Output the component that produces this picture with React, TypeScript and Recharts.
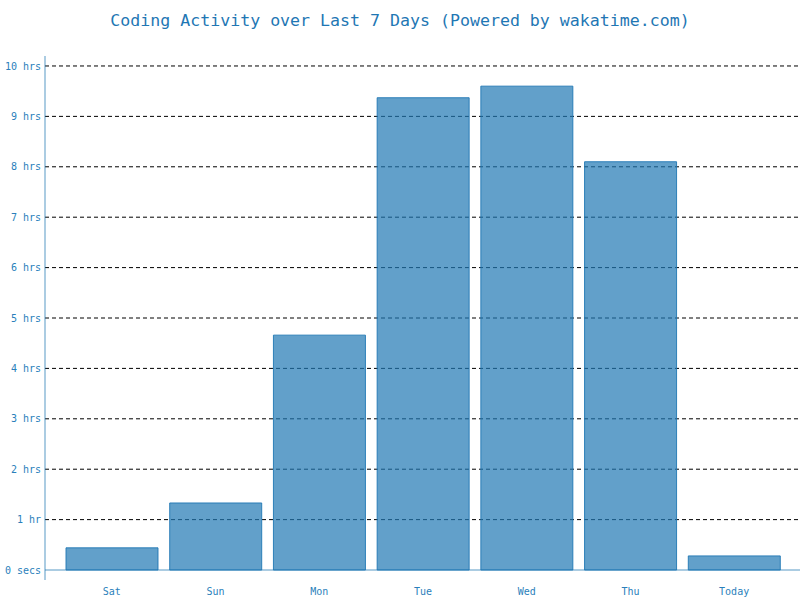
import React from "react";
import { BarChart, Bar, XAxis, YAxis, CartesianGrid, ReferenceLine } from "recharts";

const days = ["Sat", "Sun", "Mon", "Tue", "Wed", "Thu", "Today"];
const hours = [0.44, 1.33, 4.66, 9.37, 9.6, 8.1, 0.28];
const yTicks = [0, 1, 2, 3, 4, 5, 6, 7, 8, 9, 10];
const yTickLabels = ["0 secs", "1 hr", "2 hrs", "3 hrs", "4 hrs", "5 hrs", "6 hrs", "7 hrs", "8 hrs", "9 hrs", "10 hrs"];
const title = "Coding Activity over Last 7 Days (Powered by wakatime.com)";

const data = days.map((d, i) => ({ day: d, hours: hours[i] }));

const FONT = "'DejaVu Sans Mono', monospace";
const BLUE = "#1f77b4";

export default function App() {
  return (
    <div style={{ position: "absolute", left: 0, top: 0, width: 800, height: 600, background: "#fff" }}>
      <div
        style={{
          position: "absolute",
          left: 0,
          top: 11,
          width: 800,
          textAlign: "center",
          fontFamily: FONT,
          fontSize: 16.6,
          color: BLUE,
          lineHeight: "20px",
        }}
      >
        {title}
      </div>
      <BarChart
        width={800}
        height={600}
        data={data}
        margin={{ top: 56, right: 0, bottom: 0, left: 0 }}
        barCategoryGap={6}
      >
        <CartesianGrid
          horizontal={true}
          vertical={false}
          horizontalValues={yTicks.filter((t) => t > 0)}
          stroke="#000"
          strokeDasharray="4 3"
        />
        <XAxis
          dataKey="day"
          height={20}
          axisLine={false}
          tickLine={false}
          tickSize={0}
          tickMargin={8}
          padding={{ left: 15, right: 14 }}
          tick={{ fill: "#2a7fbb", fontSize: 10, fontFamily: FONT }}
          interval={0}
        />
        <YAxis
          width={45}
          domain={[-0.198, 10.198]}
          ticks={yTicks}
          allowDataOverflow={true}
          tickFormatter={(v: number) => yTickLabels[yTicks.indexOf(v)] ?? ""}
          axisLine={{ stroke: BLUE, strokeOpacity: 0.5, strokeWidth: 1.5 }}
          tickLine={false}
          tickSize={0}
          tickMargin={4}
          tick={{ fill: "#2a7fbb", fontSize: 10, fontFamily: FONT }}
        />
        <Bar
          dataKey="hours"
          fill={BLUE}
          fillOpacity={0.7}
          stroke={BLUE}
          strokeOpacity={0.9}
          isAnimationActive={false}
        />
        <ReferenceLine y={0} stroke={BLUE} strokeOpacity={0.5} strokeWidth={1.5} />
      </BarChart>
    </div>
  );
}
